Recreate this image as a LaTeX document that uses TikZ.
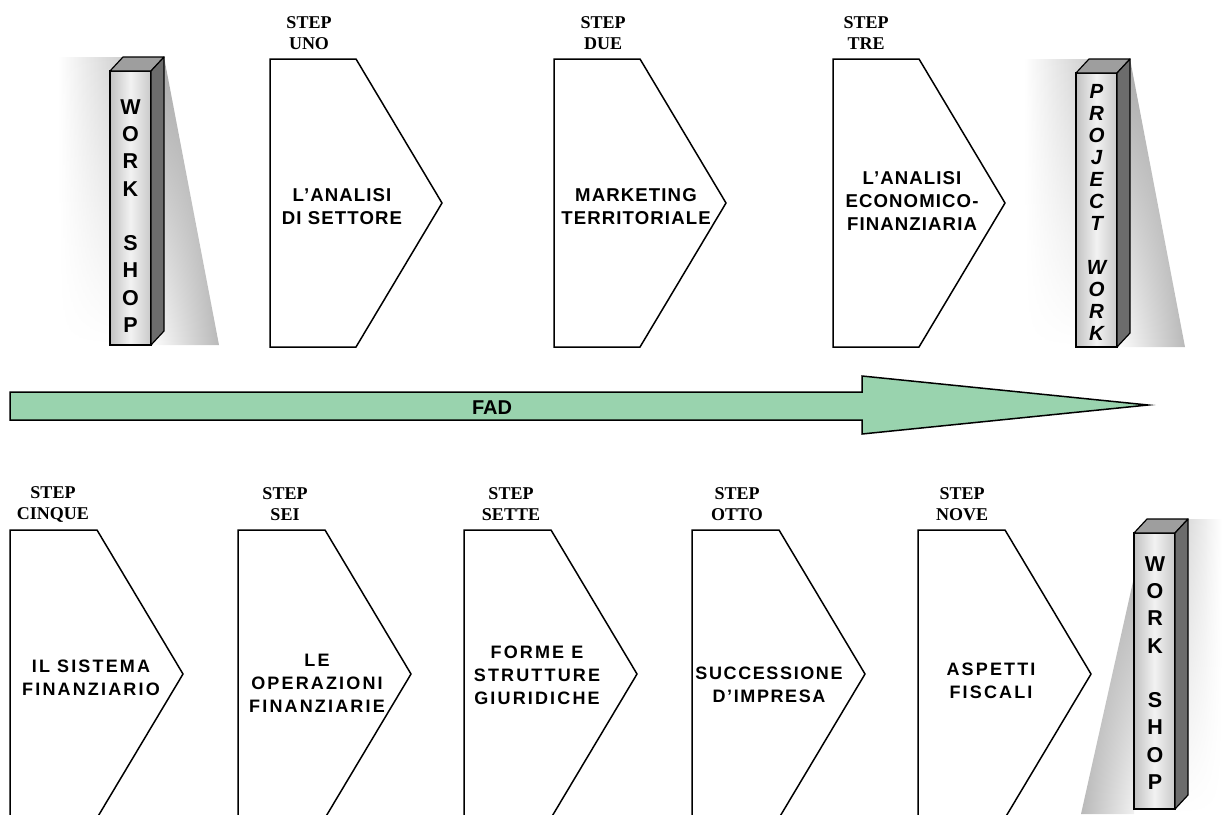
\documentclass[tikz,border=0pt]{standalone}
\usepackage{fontspec}
\setmainfont{Liberation Serif}
\newfontfamily\arialf{Liberation Sans}
\newfontfamily\chevtopf[LetterSpace=6]{Liberation Sans}
\newfontfamily\chevbotf[LetterSpace=12]{Liberation Sans}
\newfontfamily\chevbotnarrowf[LetterSpace=9]{Liberation Sans}
\usetikzlibrary{fadings,shadings}
\definecolor{fadgreen}{RGB}{153,211,174}
\definecolor{topface}{RGB}{158,158,158}
\definecolor{sideface}{RGB}{108,108,108}
\tikzset{
  chevron/.style={draw=black, line width=1.5pt, fill=white, line join=miter},
  steplabel/.style={font=\fontsize{18}{21}\selectfont\bfseries, align=center, inner sep=0pt},
  toptext/.style={font=\chevtopf\bfseries\fontsize{18.6}{23}\selectfont, align=center, inner sep=0pt},
  bottext/.style={font=\chevbotf\bfseries\fontsize{18}{23}\selectfont, align=center, inner sep=0pt},
  bottextnarrow/.style={font=\chevbotnarrowf\bfseries\fontsize{18}{23}\selectfont, align=center, inner sep=0pt},
  pillarfront/.style={draw=black, line width=1.2pt, left color=gray!48, right color=gray!42, middle color=gray!10},
  pillartop/.style={draw=black, line width=1.2pt, fill=topface, line join=round},
  pillarside/.style={draw=black, line width=1.2pt, fill=sideface, line join=round},
  pillarletters/.style={font=\arialf\bfseries\fontsize{21.5}{27.25}\selectfont, align=center, inner sep=0pt},
  projletters/.style={font=\arialf\bfseries\itshape\fontsize{20.5}{22}\selectfont, align=center, inner sep=0pt},
  fadarrow/.style={draw=black, line width=1.5pt, fill=fadgreen, line join=miter},
  fadtext/.style={font=\arialf\bfseries\fontsize{20}{24}\selectfont, inner sep=0pt},
  glowleft/.style={left color=white, right color=gray!38, path fading=south},
  glowright/.style={left color=gray!38, right color=white, path fading=south}
}
\newcommand\topchev[1]{%
  \draw[chevron] (#1,59) -- ({#1+86},59) -- ({#1+172},203) -- ({#1+86},347) -- (#1,347) -- cycle;}
\newcommand\botchev[1]{%
  \draw[chevron] (#1,530) -- ({#1+87},530) -- ({#1+173},674) -- ({#1+87},818) -- (#1,818) -- cycle;}
\newcommand\pillarbox[3]{%
  \shadedraw[pillarfront] (#1,#2) rectangle ({#1+41},#3);
  \filldraw[pillartop] (#1,#2) -- ({#1+13},{#2-14}) -- ({#1+54},{#2-14}) -- ({#1+41},#2) -- cycle;
  \filldraw[pillarside] ({#1+41},#2) -- ({#1+54},{#2-14}) -- ({#1+54},{#3-14}) -- ({#1+41},#3) -- cycle;}
\begin{document}
\begin{tikzpicture}[x=1pt,y=-1pt]
\useasboundingbox (0,0) rectangle (1222,814);
\clip (0,0) rectangle (1222,814);

% ---- top-left pillar: WORK SHOP ----
\shade[glowleft] (58,57) -- (123,57) -- (110,71) -- (110,345) -- (58,345) -- cycle;
\shade[upper left=gray!66, upper right=gray!66, lower left=white, lower right=gray!55]
  (164,57) -- (219,345) -- (151,345) -- (151,71) -- cycle;
\pillarbox{110}{71}{345}
\node[pillarletters] (ws1) at (130.5,216) {W\\O\\R\\K\\\mbox{}\\S\\H\\O\\P};

% ---- top-right pillar: PROJECT WORK ----
\shade[glowleft] (1024,59) -- (1089,59) -- (1076,73) -- (1076,347) -- (1024,347) -- cycle;
\shade[upper left=gray!66, upper right=gray!66, lower left=white, lower right=gray!55]
  (1130,59) -- (1185,347) -- (1117,347) -- (1117,73) -- cycle;
\pillarbox{1076}{73}{347}
\node[projletters] (pw) at (1096.5,212) {P\\R\\O\\J\\E\\C\\T\\\mbox{}\\W\\O\\R\\K};

% ---- bottom-right pillar: WORK SHOP ----
\shade[glowright] (1175,519) -- (1222,519) -- (1222,814) -- (1175,814) -- cycle;
\shade[upper left=gray!66, upper right=gray!66, lower left=gray!55, lower right=white]
  (1147,519) -- (1134,533) -- (1134,814) -- (1081,814) -- cycle;
\pillarbox{1134}{533}{809}
\node[pillarletters] (ws2) at (1155,673) {W\\O\\R\\K\\\mbox{}\\S\\H\\O\\P};

% ---- top chevrons ----
\topchev{270}
\topchev{554}
\topchev{833}
\node[steplabel] (st1) at (309,33) {STEP\\UNO};
\node[steplabel] (st2) at (603,33) {STEP\\DUE};
\node[steplabel] (st3) at (866,33) {STEP\\TRE};
\node[toptext] (c1) at (342,207) {L’ANALISI\\DI SETTORE};
\node[toptext] (c2) at (636,207) {MARKETING\\TERRITORIALE};
\node[toptext] (c3) at (912,201) {L’ANALISI\\ECONOMICO-\\FINANZIARIA};

% ---- FAD arrow ----
\draw[fadarrow] (10,392) -- (862,392) -- (862,376) -- (1148,405) -- (862,434) -- (862,420) -- (10,420) -- cycle;
\node[fadtext] (fad) at (492,408) {FAD};

% ---- bottom chevrons ----
\botchev{10}
\botchev{238}
\botchev{464}
\botchev{692}
\botchev{918}
\node[steplabel] (st5) at (53,504) {STEP\\CINQUE};
\node[steplabel] (st6) at (285,504) {STEP\\SEI};
\node[steplabel] (st7) at (511,504) {STEP\\SETTE};
\node[steplabel] (st8) at (737,504) {STEP\\OTTO};
\node[steplabel] (st9) at (962,504) {STEP\\NOVE};
\node[bottext] (c5) at (91,678) {IL SISTEMA\\FINANZIARIO};
\node[bottext] (c6) at (317,683) {LE\\OPERAZIONI\\FINANZIARIE};
\node[bottext] (c7) at (537,675) {FORME E\\STRUTTURE\\GIURIDICHE};
\node[bottextnarrow] (c8) at (769,685) {SUCCESSIONE\\D’IMPRESA};
\node[bottext] (c9) at (991,681) {ASPETTI\\FISCALI};
\end{tikzpicture}
\end{document}
